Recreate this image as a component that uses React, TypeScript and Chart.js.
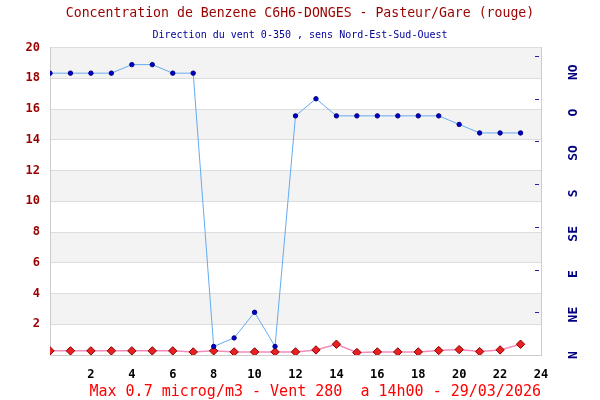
import React, { useEffect, useRef } from 'react';
import { Chart, registerables } from 'chart.js';

Chart.register(...registerables);

// ---- Data ----
const HOURS = [0, 1, 2, 3, 4, 5, 6, 7, 8, 9, 10, 11, 12, 13, 14, 15, 16, 17, 18, 19, 20, 21, 22, 23];
const BENZENE = [0.27, 0.27, 0.27, 0.27, 0.27, 0.27, 0.27, 0.2, 0.27, 0.2, 0.2, 0.2, 0.2, 0.33, 0.7, 0.16, 0.2, 0.2, 0.2, 0.29, 0.35, 0.22, 0.33, 0.7];
const WIND_DEG = [330, 330, 330, 330, 340, 340, 330, 330, 10, 20, 50, 10, 280, 300, 280, 280, 280, 280, 280, 280, 270, 260, 260, 260];
const WIND_LABELS = ['N', 'NE', 'E', 'SE', 'S', 'SO', 'O', 'NO'];
const WIND_TICK_MARKS = [50, 100, 150, 200, 250, 300, 350];
const TITLE = 'Concentration de Benzene C6H6-DONGES - Pasteur/Gare (rouge)';
const SUBTITLE = 'Direction du vent 0-350 , sens Nord-Est-Sud-Ouest';
const FOOTER = 'Max 0.7 microg/m3 - Vent 280  a 14h00 - 29/03/2026';

// ---- Layout / style constants ----
const MONO = "'DejaVu Sans Mono', monospace";
const WIND_LABEL_STEP = 47.3;

const bandsPlugin = {
  id: 'bands',
  beforeDraw(chart: any) {
    const { ctx, chartArea } = chart;
    const y = chart.scales.y;
    ctx.save();
    ctx.fillStyle = '#f3f3f3';
    y.ticks.forEach((t: any, i: number) => {
      if (i % 2 === 1 && i + 1 < y.ticks.length) {
        const top = y.getPixelForValue(y.ticks[i + 1].value);
        const bottom = y.getPixelForValue(t.value);
        ctx.fillRect(chartArea.left, top, chartArea.right - chartArea.left, bottom - top);
      }
    });
    ctx.restore();
  },
};

const windMarksPlugin = {
  id: 'windMarks',
  afterDatasetsDraw(chart: any) {
    const { ctx, chartArea } = chart;
    const s = chart.scales.yWind;
    ctx.save();
    ctx.strokeStyle = '#2222aa';
    ctx.lineWidth = 1;
    ctx.beginPath();
    WIND_TICK_MARKS.forEach((v) => {
      const py = Math.round(s.getPixelForValue(v)) + 0.5;
      ctx.moveTo(chartArea.right - 6, py);
      ctx.lineTo(chartArea.right - 2, py);
    });
    ctx.stroke();
    ctx.restore();
  },
};

export default function App() {
  const ref = useRef<HTMLCanvasElement>(null);

  useEffect(() => {
    if (!ref.current) return;
    const chart = new Chart(ref.current, {
      type: 'line',
      data: {
        datasets: [
          {
            label: 'Vent',
            data: HOURS.map((h, i) => ({ x: h, y: WIND_DEG[i] })),
            yAxisID: 'yWind',
            borderColor: '#66aaf0',
            borderWidth: 1,
            pointRadius: 2.2,
            pointBackgroundColor: '#0000cc',
            pointBorderColor: '#000080',
            pointBorderWidth: 1,
            tension: 0,
          },
          {
            label: 'Benzene',
            data: HOURS.map((h, i) => ({ x: h, y: BENZENE[i] })),
            yAxisID: 'y',
            borderColor: '#f38cbc',
            borderWidth: 1.5,
            pointStyle: 'rectRot',
            pointRadius: 4.2,
            pointBackgroundColor: '#e82020',
            pointBorderColor: '#8b0000',
            pointBorderWidth: 1,
            tension: 0,
          },
        ],
      },
      options: {
        animation: false,
        responsive: false,
        maintainAspectRatio: false,
        layout: { padding: 0 },
        plugins: {
          legend: { display: false },
          tooltip: { enabled: false },
          title: {
            display: true,
            text: TITLE,
            color: '#990000',
            font: { family: MONO, size: 13.2, weight: 'normal' },
            padding: { top: 6, bottom: 3 },
          },
          subtitle: {
            display: true,
            text: SUBTITLE,
            color: '#000099',
            font: { family: MONO, size: 10, weight: 'normal' },
            padding: { top: 4.2, bottom: 6.5 },
          },
        },
        scales: {
          x: {
            type: 'linear',
            min: 0,
            max: 24,
            afterFit: (s: any) => { s.height = 45; },
            grid: { display: false },
            border: { display: true, color: '#cccccc' },
            ticks: {
              stepSize: 2,
              padding: 5,
              color: '#000000',
              font: { family: MONO, size: 12, weight: 'bold' },
              callback: (v: any) => (v === 0 ? '' : String(v)),
              maxRotation: 0,
              autoSkip: false,
            },
            title: {
              display: true,
              text: FOOTER,
              align: 'end',
              color: '#ff0000',
              font: { family: MONO, size: 15, weight: 'normal', lineHeight: 1.0 },
              padding: { top: 0, bottom: 0 },
            },
          },
          y: {
            position: 'left',
            min: 0,
            max: 20,
            afterFit: (s: any) => { s.width = 50; },
            grid: { color: '#dddddd', drawTicks: false },
            border: { display: true, color: '#cccccc' },
            ticks: {
              stepSize: 2,
              padding: 10,
              color: '#990000',
              font: { family: MONO, size: 12, weight: 'bold' },
              callback: (v: any) => (v === 0 ? '' : String(v)),
            },
          },
          yWind: {
            position: 'right',
            min: 0,
            max: 360,
            afterFit: (s: any) => { s.width = 59; },
            afterBuildTicks: (s: any) => {
              s.ticks = WIND_LABELS.map((_, i) => ({ value: i * WIND_LABEL_STEP }));
            },
            grid: { drawOnChartArea: false, drawTicks: false },
            border: { display: true, color: '#cccccc' },
            ticks: {
              autoSkip: false,
              minRotation: 90,
              maxRotation: 90,
              crossAlign: 'center',
              padding: 25,
              color: '#000080',
              font: { family: MONO, size: 13, weight: 'bold' },
              callback: (_v: any, i: number) => WIND_LABELS[i],
            },
          },
        },
      },
      plugins: [bandsPlugin, windMarksPlugin],
    } as any);
    return () => chart.destroy();
  }, []);

  return (
    <div style={{ position: 'fixed', left: 0, top: 0, width: 600, height: 400, background: '#ffffff' }}>
      <canvas ref={ref} width={600} height={400} style={{ display: 'block' }} />
    </div>
  );
}
